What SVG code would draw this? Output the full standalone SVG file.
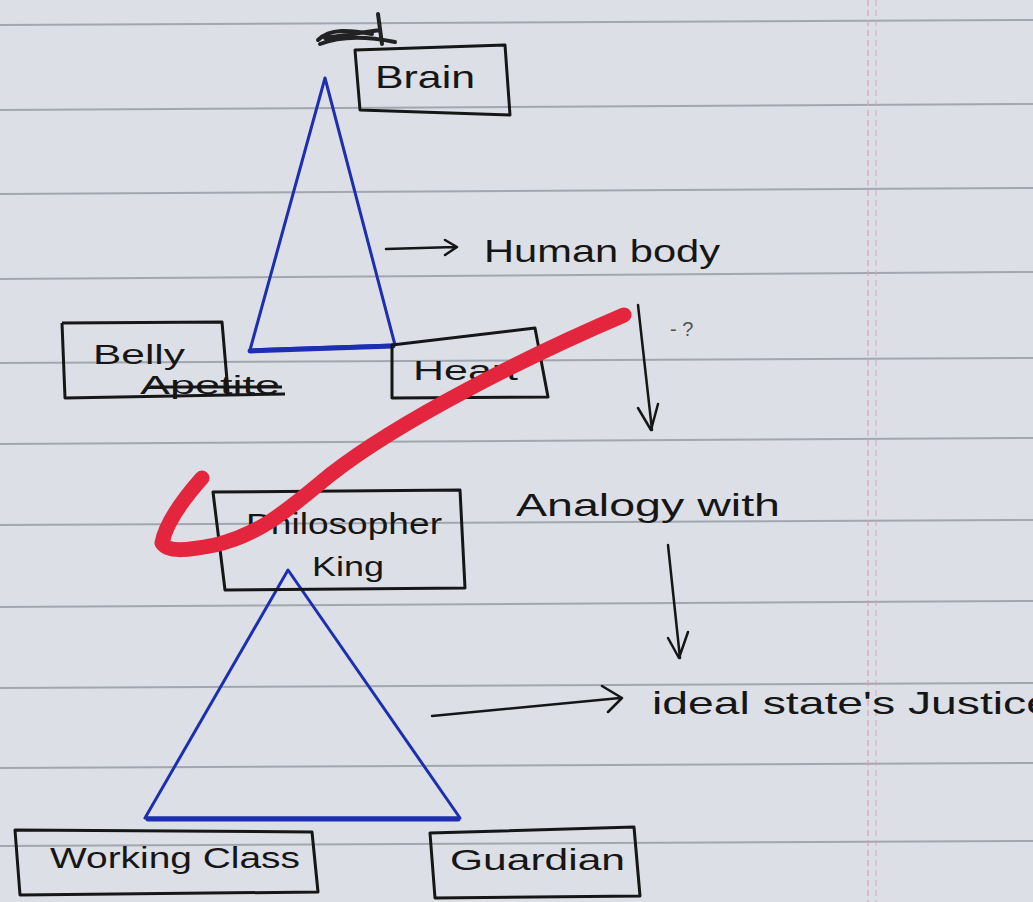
<svg xmlns="http://www.w3.org/2000/svg" width="1033" height="902" viewBox="0 0 1033 902">
<defs>
<style>
.rule{stroke:#8a8f9a;stroke-width:2;opacity:0.7}
.box{fill:none;stroke:#161616;stroke-width:3;stroke-linejoin:round}
.tri{fill:none;stroke:#1d2fb0;stroke-width:3;stroke-linejoin:round}
.base{stroke:#1d2fb0;stroke-width:5;stroke-linecap:round}
.ink{fill:none;stroke:#161616;stroke-width:2.5;stroke-linecap:round;stroke-linejoin:round}
.t{font-family:"Liberation Sans","DejaVu Sans",sans-serif;fill:#161616}
</style>
</defs>
<rect width="1033" height="902" fill="#dcdfe5"/>
<g id="paper">
<line class="rule" x1="0" y1="25" x2="1033" y2="20"/>
<line class="rule" x1="0" y1="110" x2="1033" y2="104"/>
<line class="rule" x1="0" y1="194" x2="1033" y2="188"/>
<line class="rule" x1="0" y1="279" x2="1033" y2="272"/>
<line class="rule" x1="0" y1="363" x2="1033" y2="358"/>
<line class="rule" x1="0" y1="444" x2="1033" y2="438"/>
<line class="rule" x1="0" y1="525" x2="1033" y2="520"/>
<line class="rule" x1="0" y1="607" x2="1033" y2="601"/>
<line class="rule" x1="0" y1="688" x2="1033" y2="683"/>
<line class="rule" x1="0" y1="768" x2="1033" y2="763"/>
<line class="rule" x1="0" y1="846" x2="1033" y2="841"/>
<line x1="868" y1="0" x2="868" y2="902" stroke="#d9a5b4" stroke-width="1.5" stroke-dasharray="6 4" opacity="0.8"/>
<line x1="876" y1="0" x2="876" y2="902" stroke="#d9a5b4" stroke-width="1.5" stroke-dasharray="6 4" opacity="0.6"/>
</g>
<g id="connectors">
<polygon class="tri" points="325,78 250,350 395,345"/>
<line class="base" x1="250" y1="351" x2="393" y2="346"/>
<polygon class="tri" points="288,570 145,818 460,818"/>
<line class="base" x1="148" y1="819" x2="458" y2="819"/>
<path class="ink" d="M386,249 L455,247 M445,240 L457,247 L445,255"/>
<path class="ink" d="M638,305 L652,430 M638,408 L651,430 L658,404"/>
<path class="ink" d="M668,545 L680,658 M668,638 L679,658 L688,632"/>
<path class="ink" d="M432,716 L620,698 M602,686 L622,698 L608,712"/>
</g>
<g id="brain">
<path class="box" d="M355,50 L505,45 L510,115 L360,110 Z"/>
<path d="M318,40 C330,28 350,30 372,34 M320,44 C340,36 365,36 395,42 M325,38 L380,30 M378,14 L382,44" fill="none" stroke="#222" stroke-width="4" stroke-linecap="round"/>
<text class="t" x="375" y="88" font-size="32" textLength="100" lengthAdjust="spacingAndGlyphs">Brain</text>
</g>
<g id="belly">
<path class="box" d="M62,323 L222,322 L228,392 M285,394 L65,398 L62,323"/>
<text class="t" x="93" y="364" font-size="28" textLength="92" lengthAdjust="spacingAndGlyphs">Belly</text>
<text class="t" x="140" y="394" font-size="26" textLength="140" lengthAdjust="spacingAndGlyphs">Apetite</text>
<line x1="150" y1="387" x2="282" y2="387" stroke="#161616" stroke-width="3"/>
</g>
<g id="heart">
<path class="box" d="M392,345 L535,328 L548,397 L392,398 Z"/>
<text class="t" x="413" y="380" font-size="27" textLength="105" lengthAdjust="spacingAndGlyphs">Heart</text>
<text class="t" x="670" y="336" font-size="20" fill="#4a5aa0" opacity="0.7">- ?</text>
</g>
<g id="philosopher">
<path class="box" d="M213,492 L460,490 L465,588 L225,590 Z"/>
<text class="t" x="246" y="534" font-size="30" textLength="196" lengthAdjust="spacingAndGlyphs">Philosopher</text>
<text class="t" x="312" y="576" font-size="28" textLength="72" lengthAdjust="spacingAndGlyphs">King</text>
</g>
<g id="working">
<path class="box" d="M15,830 L312,832 L318,892 L20,895 Z"/>
<text class="t" x="50" y="868" font-size="29" textLength="250" lengthAdjust="spacingAndGlyphs">Working Class</text>
</g>
<g id="guardian">
<path class="box" d="M430,833 L634,827 L640,896 L435,898 Z"/>
<text class="t" x="450" y="870" font-size="29" textLength="175" lengthAdjust="spacingAndGlyphs">Guardian</text>
</g>
<g id="labels">
<text class="t" x="484" y="262" font-size="32" textLength="236" lengthAdjust="spacingAndGlyphs">Human body</text>
<text class="t" x="516" y="516" font-size="32" textLength="264" lengthAdjust="spacingAndGlyphs">Analogy with</text>
<text class="t" x="652" y="714" font-size="32" textLength="400" lengthAdjust="spacingAndGlyphs">ideal state's Justice</text>
</g>
<g id="red-mark">
<path d="M624,315 C530,355 400,420 330,475 C290,508 260,535 215,545 C190,550 168,553 162,543 C166,522 186,496 202,478" fill="none" stroke="#e4253e" stroke-width="15" stroke-linecap="round" stroke-linejoin="round"/>
</g>
</svg>
